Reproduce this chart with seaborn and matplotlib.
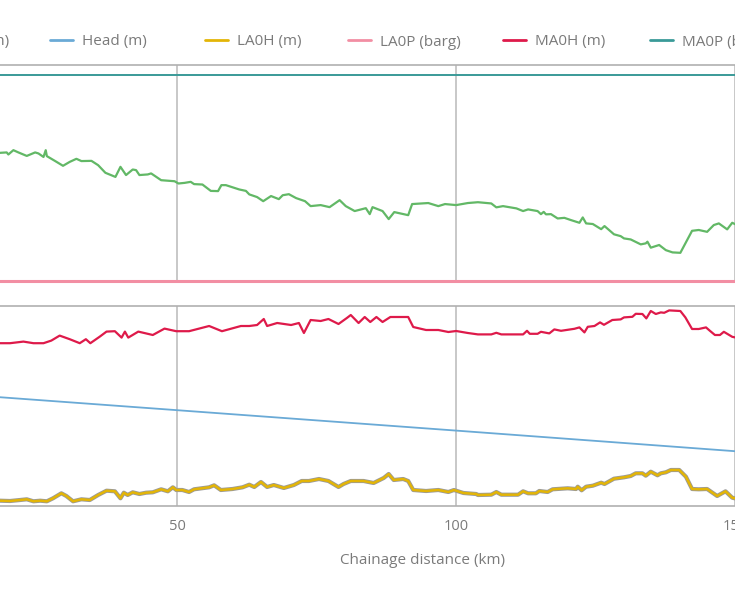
import matplotlib
matplotlib.use("Agg")
import matplotlib.pyplot as plt
import seaborn as sns
import pandas as pd
from matplotlib.lines import Line2D

# ---------------- data ----------------
# Pressure (barg) - top panel
press_km = [17.0, 18.2, 19.4, 19.7, 20.6, 21.5, 23.0, 24.5, 25.1, 26.0, 26.4, 26.6, 28.1, 29.5, 30.7, 31.9,
            32.8, 34.6, 35.8, 37.1, 38.9, 39.8, 40.8, 42.0, 42.6, 43.2, 44.7, 45.3, 47.1, 49.5, 50.2, 51.3,
            52.4, 53.0, 54.5, 56.0, 57.3, 57.9, 58.7, 61.1, 62.3, 62.9, 64.3, 65.4, 66.8, 68.2, 68.9, 70.0,
            71.3, 72.9, 73.9, 75.7, 77.3, 79.1, 80.2, 81.8, 83.8, 84.5, 85.0, 86.8, 87.9, 88.9, 91.4, 92.1,
            95.0, 96.8, 98.0, 100.0, 102.1, 103.9, 106.3, 107.2, 108.4, 110.8, 112.0, 112.9, 114.6, 115.2,
            115.7, 116.1, 117.0, 118.2, 119.4, 120.6, 122.1, 122.7, 123.3, 124.5, 126.0, 126.6, 128.3, 129.5,
            130.1, 131.3, 133.1, 134.0, 134.3, 134.9, 136.4, 137.6, 138.8, 140.2, 142.3, 143.5, 145.0, 146.2,
            147.1, 148.6, 149.5, 150.5]
press_barg = [62.0, 62.3, 62.5, 61.5, 63.6, 62.5, 60.8, 62.5, 62.0, 60.3, 63.6, 60.7, 58.3, 56.0, 57.9, 59.4,
              58.3, 58.4, 56.3, 52.6, 50.6, 55.5, 51.5, 54.2, 53.9, 51.5, 51.8, 52.3, 49.0, 48.5, 47.4, 47.7,
              48.2, 47.1, 46.9, 43.8, 43.7, 46.6, 46.6, 44.5, 43.8, 42.1, 40.8, 38.8, 41.3, 39.8, 41.7, 42.2,
              40.3, 38.8, 36.4, 36.9, 35.9, 39.3, 36.4, 34.0, 35.4, 32.5, 35.9, 34.0, 30.1, 33.5, 32.0, 37.4,
              37.9, 36.4, 37.4, 36.9, 37.9, 38.3, 37.7, 35.8, 36.4, 35.3, 34.0, 34.8, 34.0, 32.5,
              33.6, 32.4, 32.5, 30.4, 30.7, 29.6, 28.3, 30.9, 28.0, 27.7, 25.2, 26.7, 22.7, 21.8,
              20.7, 20.2, 17.8, 18.3, 19.1, 16.2, 17.5, 15.0, 13.9, 13.7, 24.4, 24.8, 23.9, 27.2,
              28.0, 25.1, 28.3, 27.0]

# constant limits (barg)
limit_km = [0.0, 170.0]
maop_barg = [100.0, 100.0]
laop_barg = [0.0, 0.0]

# MA0H (m) - bottom panel
maoh_km = [17.0, 18.2, 20.0, 22.4, 24.2, 26.0, 27.4, 28.9, 30.7, 32.5, 33.6, 34.4, 36.1, 37.3, 38.8, 40.0,
           40.6, 41.2, 43.0, 45.6, 47.7, 49.8, 52.1, 55.7, 58.0, 61.4, 62.9, 64.3, 65.5, 66.1, 67.9, 70.4,
           71.8, 72.7, 73.9, 75.7, 77.1, 78.9, 80.4, 81.1, 82.5, 83.6, 84.6, 85.7, 86.8, 88.2, 91.4, 92.3,
           94.6, 96.8, 98.6, 100.0, 102.1, 103.9, 106.3, 107.2, 108.1, 112.0, 112.7, 113.2, 114.6, 115.2,
           116.7, 117.6, 118.8, 121.2, 122.1, 123.0, 123.6, 124.8, 125.8, 126.5, 128.0, 129.5, 130.1, 131.6,
           132.2, 133.4, 134.1, 134.9, 135.8, 136.7, 137.3, 138.2, 140.2, 141.1, 142.3, 143.5, 144.8, 145.5,
           146.4, 147.3, 148.0, 149.5, 150.5]
maoh_m = [814, 814, 814, 822, 814, 814, 827, 852, 834, 814, 834, 814, 847, 872, 874, 842,
          872, 842, 872, 855, 887, 874, 874, 900, 874, 900, 900, 905, 935, 900, 915, 905,
          915, 865, 930, 925, 935, 910, 940, 955, 915, 945, 920, 945, 920, 945, 945, 895,
          880, 880, 870, 875, 865, 858, 858, 866, 858, 858, 876, 861, 861, 871,
          863, 883, 876, 886, 893, 868, 896, 900, 918, 906, 930, 933, 943, 946,
          961, 960, 938, 975, 960, 968, 966, 978, 975, 943, 885, 885, 893, 876,
          855, 855, 871, 846, 840]

# Head (m)
head_km = [0.0, 50.0, 100.0, 150.0, 170.0]
head_m = [581, 479, 377, 274, 233]

# LA0H (m) (elevation line coincides with it)
laoh_km = [17.0, 18.2, 20.0, 21.8, 23.0, 24.2, 25.4, 26.6, 27.7, 29.2, 30.1, 31.3, 32.8, 34.3, 35.8, 37.3,
           38.8, 39.8, 40.4, 41.1, 42.0, 43.2, 44.4, 45.6, 47.1, 48.3, 49.2, 49.8, 50.9, 52.1, 53.0, 55.7,
           56.6, 57.8, 59.9, 61.7, 62.9, 63.8, 65.0, 66.1, 67.3, 69.1, 70.9, 72.3, 73.6, 75.4, 77.1, 78.9,
           79.8, 81.1, 83.4, 85.2, 87.0, 87.9, 88.8, 90.5, 91.4, 92.3, 94.6, 96.8, 98.6, 99.6, 101.3, 103.6,
           103.9, 106.3, 107.2, 108.1, 111.1, 112.0, 112.9, 114.3, 114.9, 116.4, 117.3, 120.0, 121.5, 121.8,
           122.5, 123.3, 124.5, 126.0, 126.6, 128.3, 130.1, 131.3, 132.2, 133.4, 134.0, 134.9, 136.1, 136.7,
           137.6, 138.5, 140.0, 141.2, 142.3, 143.5, 145.0, 146.8, 148.3, 149.5, 150.5]
laoh_m = [26, 26.5, 25, 30, 33.5, 23.5, 26.5, 23.5, 38.5, 63.5, 50, 23.5, 33.5, 30, 55, 76.5,
          73.5, 38.5, 66.5, 55, 68.5, 60, 66.5, 68.5, 83.5, 73.5, 93.5, 80, 80, 70, 83.5, 93.5,
          103.5, 80, 85, 93.5, 106.5, 95, 120, 95, 105, 90, 105, 125, 125, 135, 125, 95,
          110, 125, 125, 115, 140, 160, 130, 135, 125, 80, 75, 80, 70, 80, 65, 60,
          55, 56.5, 70, 56.5, 56.5, 73.5, 63.5, 63.5, 75, 70, 83.5, 88.5, 85, 96.5,
          78.5, 96.5, 101.5, 116.5, 110, 136.5, 143.5, 150, 163.5, 163.5, 151.5, 171.5, 153.5, 163.5,
          168.5, 180, 180, 146.5, 85, 83.5, 85, 50, 73.5, 41.5, 35]

legend_labels = ["Elevation (m)", "Head (m)", "LA0H (m)", "LA0P (barg)", "MA0H (m)", "MA0P (barg)", "Pressure (barg)"]
x_ticks = [50, 100, 150]

# ---------------- style ----------------
sns.set_theme(style="white")
plt.rcParams["font.family"] = ["Open Sans", "DejaVu Sans"]
TXT = "#7a7a7a"
GRID = "#c4c4c4"

C_ELEV = "#9a9a9a"
C_HEAD = "#6aaad6"
C_LAOH = "#e3b507"
C_LAOP = "#f28ea3"
C_MAOH = "#de1a4a"
C_MAOP = "#3a9a98"
C_PRES = "#62b866"

fig = plt.figure(figsize=(7.35, 6.0), dpi=100)
W, H = 735.0, 600.0
ax1 = fig.add_axes([0.0, 1 - 281 / H, 1.0, 216 / H])
ax2 = fig.add_axes([0.0, 1 - 506 / H, 1.0, 200 / H])

XMIN, XMAX = 18.2, 149.5
for ax in (ax1, ax2):
    ax.set_xlim(XMIN, XMAX)
    ax.set_xticks(x_ticks)
    for x in x_ticks:
        ax.axvline(x, color=GRID, lw=1.3, zorder=0)
    ax.spines["left"].set_visible(False)
    ax.spines["right"].set_visible(False)
    ax.spines["top"].set_color("#b0b0b0")
    ax.spines["bottom"].set_color("#b0b0b0")
    ax.spines["top"].set_linewidth(1.2)
    ax.spines["bottom"].set_linewidth(1.2)
    ax.set_yticks([])
    ax.set_ylabel("")
    ax.set_xlabel("")

# top panel
ax1.set_ylim(0, 105)
sns.lineplot(x=limit_km, y=maop_barg, ax=ax1, color=C_MAOP, lw=1.4, clip_on=True)
sns.lineplot(x=press_km, y=press_barg, ax=ax1, color=C_PRES, lw=1.6, sort=False)
sns.lineplot(x=limit_km, y=laop_barg, ax=ax1, color=C_LAOP, lw=2.2, clip_on=False, zorder=5)
ax1.tick_params(axis="x", length=0, labelbottom=False)

# bottom panel
ax2.set_ylim(0, 1000)
sns.lineplot(x=maoh_km, y=maoh_m, ax=ax2, color=C_MAOH, lw=1.6, sort=False)
sns.lineplot(x=head_km, y=head_m, ax=ax2, color=C_HEAD, lw=1.3, sort=False)
sns.lineplot(x=laoh_km, y=laoh_m, ax=ax2, color=C_ELEV, lw=3.0, sort=False)
sns.lineplot(x=laoh_km, y=laoh_m, ax=ax2, color=C_LAOH, lw=1.8, sort=False)
ax2.tick_params(axis="x", length=0, pad=9, labelsize=10.5, labelcolor=TXT)
ax2.set_xticklabels([str(t) for t in x_ticks])

fig.text(423 / W, 1 - 561 / H, "Chainage distance (km)", ha="center", va="center",
         fontsize=11, color=TXT)

# legend (one entry per block so positions match)
colors = [C_ELEV, C_HEAD, C_LAOH, C_LAOP, C_MAOH, C_MAOP, C_PRES]
starts = [None, 50, 205, 348, 503, 650, 800]
ly = 1 - 42 / H
for lab, col, st in zip(legend_labels, colors, starts):
    h = Line2D([0], [0], color=col, lw=2)
    kw = dict(frameon=False, fontsize=11, handlelength=1.5, handletextpad=0.6,
              borderpad=0, borderaxespad=0, labelcolor=TXT)
    if st is None:
        fig.legend([h], [lab], loc="center right", bbox_to_anchor=(9 / W, ly), **kw)
    else:
        fig.legend([h], [lab], loc="center left", bbox_to_anchor=(st / W, ly), **kw)

fig.savefig("out.png", dpi=100)
